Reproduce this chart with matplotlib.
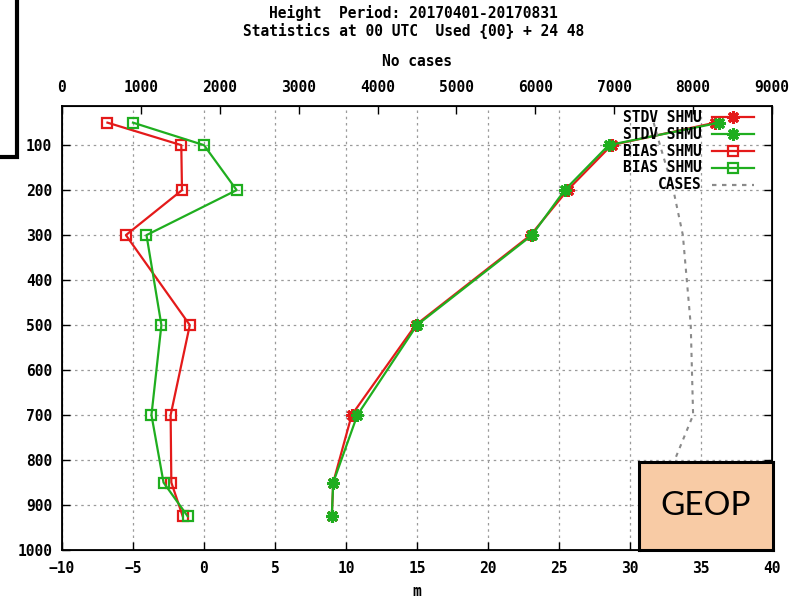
import matplotlib
matplotlib.use("Agg")
import matplotlib.pyplot as plt
from matplotlib.patches import Rectangle

# pressure levels (hPa) of the verification profile
levels = [50, 100, 200, 300, 500, 700, 850, 925]
stdv_red = [36.0, 28.7, 25.6, 23.0, 14.9, 10.4, 9.1, 9.0]
stdv_green = [36.3, 28.5, 25.4, 23.1, 15.0, 10.8, 9.1, 9.0]
bias_red = [-6.8, -1.6, -1.55, -5.5, -1.0, -2.35, -2.3, -1.5]
bias_green = [-5.0, 0.0, 2.3, -4.05, -3.0, -3.7, -2.85, -1.15]

# number of cases (top axis)
case_levels = [50, 100, 200, 300, 400, 500, 700, 850, 925]
cases = [7500, 7580, 7750, 7870, 7920, 7970, 8000, 7650, 7550]

series_labels = ["STDV SHMU", "STDV SHMU", "BIAS SHMU", "BIAS SHMU", "CASES"]
title_lines = ["Height  Period: 20170401-20170831",
               "Statistics at 00 UTC  Used {00} + 24 48"]

RED = "#e41a1a"
GREEN = "#1fae1f"
GRAY = "#8a8a8a"
mono = {"family": "DejaVu Sans Mono", "weight": "bold", "size": 10.5}

fig = plt.figure(figsize=(7.98, 6.0), dpi=100)
ax = fig.add_axes([62 / 798, 50 / 600, 710 / 798, 444 / 600])

star = (8, 2, 0)
ax.plot(stdv_red, levels, color=RED, lw=1.6, marker=star, ms=9, mew=2.2)
ax.plot(stdv_green, levels, color=GREEN, lw=1.6, marker=star, ms=9, mew=2.2)
ax.plot(bias_red, levels, color=RED, lw=1.6, marker="s", ms=6.5, mew=1.6, mfc="none")
ax.plot(bias_green, levels, color=GREEN, lw=1.6, marker="s", ms=6.5, mew=1.6, mfc="none")

ax.set_xlim(-10, 40)
ax.set_ylim(1000, 13)
ax.set_xticks(range(-10, 41, 5))
ax.set_yticks(range(100, 1001, 100))
ax.grid(True, color="#9a9a9a", lw=0.9, dashes=(2, 3))
ax.tick_params(direction="in", length=6, width=1, top=True, right=True, pad=8)
ax.tick_params(axis="y", pad=7)
for lab in ax.get_xticklabels() + ax.get_yticklabels():
    lab.set_fontproperties(mono)
ax.set_xlabel("m", fontdict=mono, labelpad=6)
for sp in ax.spines.values():
    sp.set_linewidth(1.3)

ax2 = ax.twiny()
ax2.grid(False)
ax2.plot(cases, case_levels, color=GRAY, lw=1.5, dashes=(2, 2.5))
ax2.set_xlim(0, 9000)
ax2.set_xticks(range(0, 9001, 1000))
ax2.tick_params(direction="in", length=6, width=1, pad=8)
for lab in ax2.get_xticklabels():
    lab.set_fontproperties(mono)
ax2.set_xlabel("No cases", fontdict=mono, labelpad=10)

# key in the upper right corner, text right-aligned and sample to the right
key_y = [0.9752, 0.9369, 0.8986, 0.8604, 0.8221]
key_style = [
    dict(color=RED, marker=star, ms=9, mew=2.2),
    dict(color=GREEN, marker=star, ms=9, mew=2.2),
    dict(color=RED, marker="s", ms=6.5, mew=1.6, mfc="none"),
    dict(color=GREEN, marker="s", ms=6.5, mew=1.6, mfc="none"),
    dict(color=GRAY, dashes=(2, 2.5)),
]
for y, text, st in zip(key_y, series_labels, key_style):
    ax2.text(0.901, y, text, transform=ax2.transAxes, ha="right", va="center",
             fontdict=mono)
    ax2.plot([0.9155, 0.9746], [y, y], transform=ax2.transAxes, lw=1.6,
             markevery=[], **st)
    if "marker" in st:
        ax2.plot([0.9451], [y], transform=ax2.transAxes, ls="none", **st)

fig.text(0.518, 1 - 13 / 600, title_lines[0], ha="center", va="center", fontdict=mono)
fig.text(0.518, 1 - 31 / 600, title_lines[1], ha="center", va="center", fontdict=mono)

# label box in the lower right corner
box = fig.add_axes([639 / 798, 50 / 600, 134 / 798, 88 / 600], zorder=5)
box.set_facecolor("#f8cba5")
box.set_xticks([])
box.set_yticks([])
for sp in box.spines.values():
    sp.set_linewidth(2.2)
    sp.set_color("black")
box.text(0.5, 0.5, "GEOP", ha="center", va="center", fontsize=24,
         family="Lato", transform=box.transAxes)

# frame of an overlapping panel at the top left
fig.add_artist(Rectangle((-0.05, 1 - 157 / 600), 0.05 + 17 / 798, 0.5,
                         transform=fig.transFigure, facecolor="white",
                         edgecolor="black", lw=3, zorder=6))

fig.savefig("out.png", dpi=100)
